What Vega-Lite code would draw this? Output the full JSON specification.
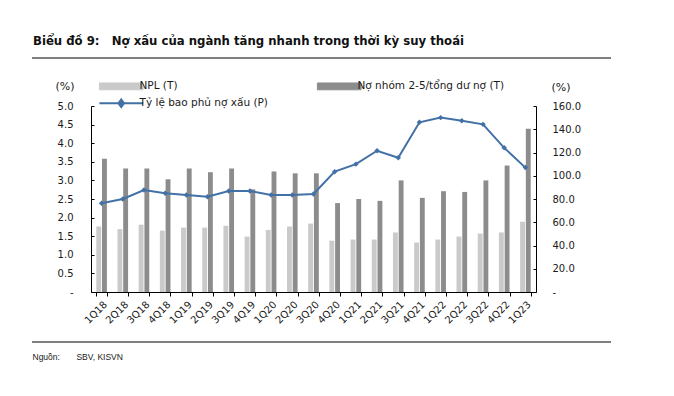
{
  "$schema": "https://vega.github.io/schema/vega-lite/v6.json",
  "width": 445,
  "height": 186,
  "autosize": {"type": "none"},
  "padding": {"left": 91, "top": 106, "right": 138, "bottom": 104},
  "background": "white",
  "title": {
    "text": "Biểu đồ 9:\u00a0\u00a0\u00a0Nợ xấu của ngành tăng nhanh trong thời kỳ suy thoái",
    "anchor": "start",
    "frame": "group",
    "dx": -58,
    "offset": 9,
    "font": "DejaVu Sans Condensed",
    "fontSize": 13,
    "fontWeight": "bold",
    "color": "#111111"
  },
  "config": {
    "view": {"stroke": null},
    "axis": {
      "labelFont": "DejaVu Sans",
      "labelFontSize": 10,
      "labelColor": "#1a1a1a",
      "titleFont": "DejaVu Sans",
      "titleFontWeight": "normal",
      "titleColor": "#1a1a1a",
      "domainColor": "#000000",
      "tickColor": "#000000",
      "grid": false
    },
    "legend": {"padding": 0}
  },
  "data": {
    "values": [
      {"q": "1Q18", "s": "NPL (T)", "v": 1.76}, {"q": "1Q18", "s": "Nợ nhóm 2-5/tổng dư nợ (T)", "v": 3.58}, {"q": "1Q18", "s": "Tỷ lệ bao phủ nợ xấu (P)", "v": 76.3},
      {"q": "2Q18", "s": "NPL (T)", "v": 1.69}, {"q": "2Q18", "s": "Nợ nhóm 2-5/tổng dư nợ (T)", "v": 3.32}, {"q": "2Q18", "s": "Tỷ lệ bao phủ nợ xấu (P)", "v": 80.0},
      {"q": "3Q18", "s": "NPL (T)", "v": 1.81}, {"q": "3Q18", "s": "Nợ nhóm 2-5/tổng dư nợ (T)", "v": 3.32}, {"q": "3Q18", "s": "Tỷ lệ bao phủ nợ xấu (P)", "v": 87.7},
      {"q": "4Q18", "s": "NPL (T)", "v": 1.65}, {"q": "4Q18", "s": "Nợ nhóm 2-5/tổng dư nợ (T)", "v": 3.03}, {"q": "4Q18", "s": "Tỷ lệ bao phủ nợ xấu (P)", "v": 84.9},
      {"q": "1Q19", "s": "NPL (T)", "v": 1.73}, {"q": "1Q19", "s": "Nợ nhóm 2-5/tổng dư nợ (T)", "v": 3.32}, {"q": "1Q19", "s": "Tỷ lệ bao phủ nợ xấu (P)", "v": 83.4},
      {"q": "2Q19", "s": "NPL (T)", "v": 1.73}, {"q": "2Q19", "s": "Nợ nhóm 2-5/tổng dư nợ (T)", "v": 3.22}, {"q": "2Q19", "s": "Tỷ lệ bao phủ nợ xấu (P)", "v": 82.0},
      {"q": "3Q19", "s": "NPL (T)", "v": 1.78}, {"q": "3Q19", "s": "Nợ nhóm 2-5/tổng dư nợ (T)", "v": 3.32}, {"q": "3Q19", "s": "Tỷ lệ bao phủ nợ xấu (P)", "v": 86.9},
      {"q": "4Q19", "s": "NPL (T)", "v": 1.49}, {"q": "4Q19", "s": "Nợ nhóm 2-5/tổng dư nợ (T)", "v": 2.76}, {"q": "4Q19", "s": "Tỷ lệ bao phủ nợ xấu (P)", "v": 86.9},
      {"q": "1Q20", "s": "NPL (T)", "v": 1.67}, {"q": "1Q20", "s": "Nợ nhóm 2-5/tổng dư nợ (T)", "v": 3.24}, {"q": "1Q20", "s": "Tỷ lệ bao phủ nợ xấu (P)", "v": 83.4},
      {"q": "2Q20", "s": "NPL (T)", "v": 1.76}, {"q": "2Q20", "s": "Nợ nhóm 2-5/tổng dư nợ (T)", "v": 3.19}, {"q": "2Q20", "s": "Tỷ lệ bao phủ nợ xấu (P)", "v": 83.4},
      {"q": "3Q20", "s": "NPL (T)", "v": 1.84}, {"q": "3Q20", "s": "Nợ nhóm 2-5/tổng dư nợ (T)", "v": 3.19}, {"q": "3Q20", "s": "Tỷ lệ bao phủ nợ xấu (P)", "v": 84.3},
      {"q": "4Q20", "s": "NPL (T)", "v": 1.38}, {"q": "4Q20", "s": "Nợ nhóm 2-5/tổng dư nợ (T)", "v": 2.39}, {"q": "4Q20", "s": "Tỷ lệ bao phủ nợ xấu (P)", "v": 103.5},
      {"q": "1Q21", "s": "NPL (T)", "v": 1.41}, {"q": "1Q21", "s": "Nợ nhóm 2-5/tổng dư nợ (T)", "v": 2.50}, {"q": "1Q21", "s": "Tỷ lệ bao phủ nợ xấu (P)", "v": 110.0},
      {"q": "2Q21", "s": "NPL (T)", "v": 1.41}, {"q": "2Q21", "s": "Nợ nhóm 2-5/tổng dư nợ (T)", "v": 2.45}, {"q": "2Q21", "s": "Tỷ lệ bao phủ nợ xấu (P)", "v": 121.5},
      {"q": "3Q21", "s": "NPL (T)", "v": 1.60}, {"q": "3Q21", "s": "Nợ nhóm 2-5/tổng dư nợ (T)", "v": 3.00}, {"q": "3Q21", "s": "Tỷ lệ bao phủ nợ xấu (P)", "v": 115.5},
      {"q": "4Q21", "s": "NPL (T)", "v": 1.33}, {"q": "4Q21", "s": "Nợ nhóm 2-5/tổng dư nợ (T)", "v": 2.53}, {"q": "4Q21", "s": "Tỷ lệ bao phủ nợ xấu (P)", "v": 146.0},
      {"q": "1Q22", "s": "NPL (T)", "v": 1.41}, {"q": "1Q22", "s": "Nợ nhóm 2-5/tổng dư nợ (T)", "v": 2.71}, {"q": "1Q22", "s": "Tỷ lệ bao phủ nợ xấu (P)", "v": 150.0},
      {"q": "2Q22", "s": "NPL (T)", "v": 1.49}, {"q": "2Q22", "s": "Nợ nhóm 2-5/tổng dư nợ (T)", "v": 2.69}, {"q": "2Q22", "s": "Tỷ lệ bao phủ nợ xấu (P)", "v": 147.4},
      {"q": "3Q22", "s": "NPL (T)", "v": 1.57}, {"q": "3Q22", "s": "Nợ nhóm 2-5/tổng dư nợ (T)", "v": 3.00}, {"q": "3Q22", "s": "Tỷ lệ bao phủ nợ xấu (P)", "v": 144.2},
      {"q": "4Q22", "s": "NPL (T)", "v": 1.60}, {"q": "4Q22", "s": "Nợ nhóm 2-5/tổng dư nợ (T)", "v": 3.40}, {"q": "4Q22", "s": "Tỷ lệ bao phủ nợ xấu (P)", "v": 124.0},
      {"q": "1Q23", "s": "NPL (T)", "v": 1.89}, {"q": "1Q23", "s": "Nợ nhóm 2-5/tổng dư nợ (T)", "v": 4.39}, {"q": "1Q23", "s": "Tỷ lệ bao phủ nợ xấu (P)", "v": 107.0}
    ]
  },
  "layer": [
    {
      "transform": [{"filter": "datum.s !== 'Tỷ lệ bao phủ nợ xấu (P)'"}],
      "mark": {"type": "bar"},
      "encoding": {
        "x": {
          "field": "q", "type": "nominal", "sort": null,
          "scale": {"paddingInner": 0.5, "paddingOuter": 0.25},
          "axis": {
            "orient": "bottom",
            "tickBand": "extent",
            "tickSize": 4,
            "labelAngle": -45,
            "labelAlign": "right",
            "labelBaseline": "top",
            "labelPadding": 3,
            "title": "Nguồn:\u00a0\u00a0\u00a0\u00a0\u00a0\u00a0\u00a0SBV, KISVN",
            "titleFont": "Liberation Sans",
            "titleFontSize": 8.5,
            "titleAngle": 0,
            "titleAlign": "left",
            "titleAnchor": "start",
            "titleBaseline": "middle",
            "titleX": -59,
            "titleY": 64
          }
        },
        "xOffset": {"field": "s", "type": "nominal", "sort": ["NPL (T)", "Nợ nhóm 2-5/tổng dư nợ (T)"], "scale": {"paddingInner": 0.15}},
        "y": {
          "field": "v", "type": "quantitative",
          "scale": {"domain": [0, 5]},
          "axis": {
            "orient": "left",
            "values": [0, 0.5, 1, 1.5, 2, 2.5, 3, 3.5, 4, 4.5, 5],
            "labelExpr": "datum.value == 0 ? '-\u00a0\u00a0' : format(datum.value, '.1f')",
            "tickSize": -3,
            "labelPadding": 21,
            "title": "(%)",
            "titleFontSize": 11,
            "titleAngle": 0,
            "titleAlign": "left",
            "titleBaseline": "middle",
            "titleX": -36,
            "titleY": -20
          }
        },
        "color": {
          "field": "s", "type": "nominal",
          "scale": {
            "domain": ["NPL (T)", "Nợ nhóm 2-5/tổng dư nợ (T)", "Tỷ lệ bao phủ nợ xấu (P)"],
            "range": ["#CACACA", "#8C8C8C", "#4271A6"]
          },
          "legend": {
            "orient": "none",
            "legendX": 25,
            "legendY": -25,
            "direction": "horizontal",
            "columns": 2,
            "columnPadding": 47,
            "rowPadding": 3,
            "title": null,
            "symbolSize": 961,
            "symbolType": "M-1.41,-0.22H1.41V0.22H-1.41Z",
            "labelFont": "DejaVu Sans",
            "labelFontSize": 10.5,
            "labelColor": "#1a1a1a",
            "labelOffset": 13,
            "encode": {
              "symbols": {
                "update": {
                  "shape": {"signal": "datum.value === 'Tỷ lệ bao phủ nợ xấu (P)' ? 'M-1.41,0H1.41M0,-0.24L0.18,0L0,0.24L-0.18,0Z' : 'M-1.41,-0.22H1.41V0.22H-1.41Z'"},
                  "fill": {"signal": "datum.value === 'NPL (T)' ? '#CACACA' : datum.value === 'Tỷ lệ bao phủ nợ xấu (P)' ? '#4271A6' : '#8C8C8C'"},
                  "stroke": {"signal": "datum.value === 'NPL (T)' ? '#BBBBBB' : datum.value === 'Tỷ lệ bao phủ nợ xấu (P)' ? '#4271A6' : '#6E6E6E'"},
                  "strokeWidth": {"signal": "datum.value === 'Tỷ lệ bao phủ nợ xấu (P)' ? 2 : 1"},
                  "opacity": {"value": 1}
                }
              }
            }
          }
        }
      }
    },
    {
      "transform": [{"filter": "datum.s === 'Tỷ lệ bao phủ nợ xấu (P)'"}],
      "mark": {"type": "line", "strokeWidth": 2, "point": {"shape": "diamond", "size": 30, "filled": true}},
      "encoding": {
        "x": {"field": "q", "type": "nominal", "sort": null, "scale": {"paddingInner": 0.5, "paddingOuter": 0.25}, "axis": null},
        "y": {
          "field": "v", "type": "quantitative",
          "scale": {"domain": [0, 160]},
          "axis": {
            "orient": "right",
            "values": [0, 20, 40, 60, 80, 100, 120, 140, 160],
            "labelExpr": "datum.value == 0 ? '-' : format(datum.value, '.1f')",
            "tickSize": -3,
            "labelPadding": 19,
            "title": "(%)",
            "titleFontSize": 11,
            "titleAngle": 0,
            "titleAlign": "left",
            "titleBaseline": "middle",
            "titleX": 15,
            "titleY": -19
          }
        },
        "color": {"field": "s", "type": "nominal", "legend": null}
      }
    },
    {
      "data": {"values": [{}]},
      "mark": {"type": "rule", "color": "#000000", "strokeWidth": 1.2, "clip": false},
      "encoding": {
        "x": {"datum": 0, "type": "quantitative", "scale": {"domain": [0, 1], "range": [-59, 520]}, "axis": null},
        "x2": {"datum": 1},
        "y": {"datum": 6.29, "type": "quantitative", "scale": {"domain": [0, 5]}, "axis": null}
      }
    },
    {
      "data": {"values": [{}]},
      "mark": {"type": "rule", "color": "#000000", "strokeWidth": 1.2, "clip": false},
      "encoding": {
        "x": {"datum": 0, "type": "quantitative", "scale": {"domain": [0, 1], "range": [-59, 520]}, "axis": null},
        "x2": {"datum": 1},
        "y": {"datum": -1.344, "type": "quantitative", "scale": {"domain": [0, 5]}, "axis": null}
      }
    }
  ],
  "resolve": {"scale": {"x": "independent", "y": "independent", "color": "shared"}}
}
